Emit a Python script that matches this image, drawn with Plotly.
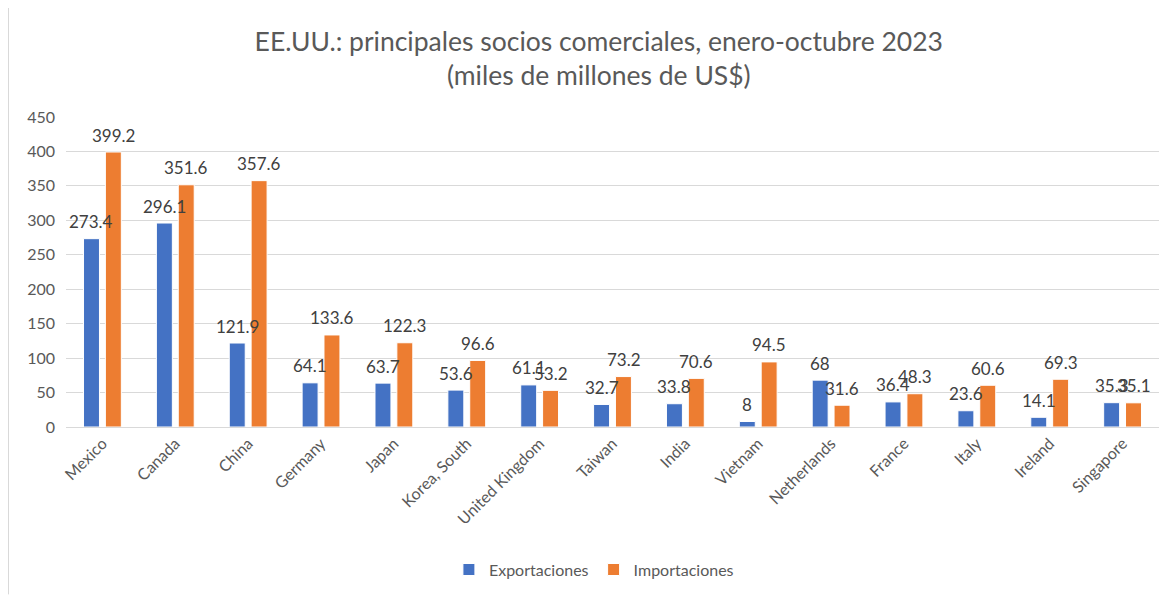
import plotly.graph_objects as go

# ==========================================================
# EE.UU.: principales socios comerciales, enero-octubre 2023
# ==========================================================

paises = [
    "Mexico", "Canada", "China", "Germany", "Japan", "Korea, South",
    "United Kingdom", "Taiwan", "India", "Vietnam", "Netherlands",
    "France", "Italy", "Ireland", "Singapore",
]
exportaciones = [273.4, 296.1, 121.9, 64.1, 63.7, 53.6, 61.1, 32.7, 33.8, 8, 68, 36.4, 23.6, 14.1, 35.3]
importaciones = [399.2, 351.6, 357.6, 133.6, 122.3, 96.6, 53.2, 73.2, 70.6, 94.5, 31.6, 48.3, 60.6, 69.3, 35.1]
y_ticks = [0, 50, 100, 150, 200, 250, 300, 350, 400, 450]

FONT = "Lato, 'Open Sans', sans-serif"
GRIS = "#595959"

# la página tiene 8px de margen en el body
W, H = 1163, 591


def barras(nombre, valores, color):
    return go.Bar(
        x=paises,
        y=valores,
        name=nombre,
        marker=dict(color=color, line=dict(color="white", width=1)),
    )


def etiquetas(valores, desplazamiento):
    # las etiquetas van como anotaciones para que queden encima de todas las barras
    for pais, v in zip(paises, valores):
        fig.add_annotation(
            x=pais, y=v, xref="x", yref="y",
            text=f"{v:g}", showarrow=False,
            xshift=desplazamiento, yshift=17, yanchor="middle",
            font=dict(family=FONT, size=17, color="#404040"),
        )


fig = go.Figure()
fig.add_trace(barras("Exportaciones", exportaciones, "#4472C4"))
fig.add_trace(barras("Importaciones", importaciones, "#ED7D31"))
etiquetas(exportaciones, -11)
etiquetas(importaciones, 11)

fig.update_layout(
    width=W,
    height=H,
    paper_bgcolor="white",
    plot_bgcolor="white",
    font=dict(family=FONT, color=GRIS, size=16),
    title=dict(
        text="EE.UU.: principales socios comerciales, enero-octubre 2023<br>(miles de millones de US$)",
        x=0.508,
        xanchor="center",
        y=1 - 43 / H,
        yanchor="middle",
        font=dict(family=FONT, size=26.5, color=GRIS),
    ),
    margin=dict(l=58, r=12, t=109, b=169),
    barmode="group",
    bargap=0.4,
    bargroupgap=0.27,
    showlegend=True,
    legend=dict(
        orientation="h",
        x=0.483,
        xanchor="center",
        y=-0.46,
        yanchor="middle",
        font=dict(family=FONT, size=16, color=GRIS),
        traceorder="normal",
    ),
    xaxis=dict(
        tickangle=-45,
        showline=True,
        linecolor="#d9d9d9",
        linewidth=1,
        automargin=False,
        tickfont=dict(family=FONT, size=16, color=GRIS),
    ),
    yaxis=dict(
        range=[0, 450],
        tickvals=y_ticks,
        showgrid=True,
        gridcolor="#d9d9d9",
        zeroline=False,
        showline=False,
        automargin=False,
        ticklabelstandoff=10,
        tickfont=dict(family=FONT, size=16, color=GRIS),
    ),
)

# borde izquierdo del área del gráfico
fig.add_shape(
    type="line", xref="paper", yref="paper",
    x0=-57.5 / 1093, x1=-57.5 / 1093, y0=-169 / 313, y1=1.5,
    line=dict(color="#d9d9d9", width=1),
)

fig.write_html("out.html")
